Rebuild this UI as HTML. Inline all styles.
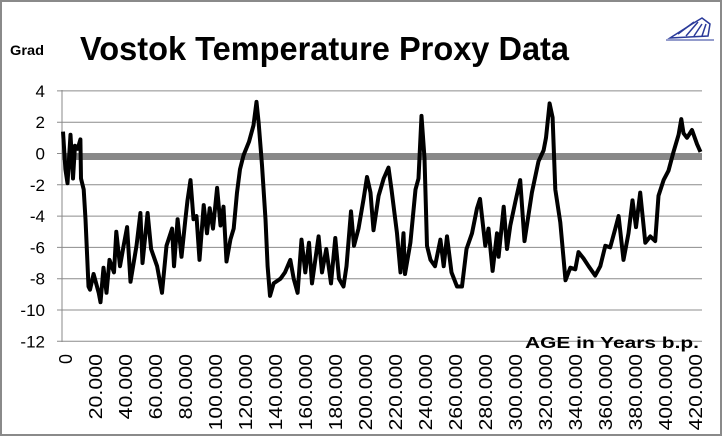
<!DOCTYPE html>
<html><head><meta charset="utf-8"><style>
html,body{margin:0;padding:0;background:#fff}
#wrap{position:relative;width:722px;height:436px;box-sizing:border-box;border:2px solid #8a8a8a;background:#fff}
svg{position:absolute;left:0;top:0}
text{font-family:"Liberation Sans",sans-serif}
</style></head><body>
<div id="wrap">
<svg id="chart" width="722" height="436">
<text x="8" y="53" font-size="14" font-weight="bold" textLength="34" lengthAdjust="spacingAndGlyphs">Grad</text>
<text x="78" y="58" font-size="33" font-weight="bold" textLength="489" lengthAdjust="spacingAndGlyphs">Vostok Temperature Proxy Data</text>
<g stroke="#2a3a9a" fill="none" stroke-width="1.5">
<path d="M668 36 L690 22 L700 16 L708 22 L706 34 L668 36 Z"/>
<path d="M676 32 L692 20 M684 34 L696 20 M692 34 L700 22 M700 34 L704 22"/>
<path d="M664 38 L712 38" stroke-width="1"/>
</g>
<g id="grid"></g>
<rect x="60" y="151.5" width="640" height="6.5" fill="#888"/>
<line x1="60" y1="88" x2="60" y2="340" stroke="#888" stroke-width="1"/>
<g id="ylabels"></g>
<g id="xlabels"></g>
<path id="series" fill="none" stroke="#000" stroke-width="4" stroke-linejoin="round"/>
<text x="523" y="346" font-size="16" font-weight="bold" textLength="174" lengthAdjust="spacingAndGlyphs">AGE in Years b.p.</text>
</svg>
</div>
<script>
const yTicks=[4,2,0,-2,-4,-6,-8,-10,-12];
const xTickLabels=["0","20.000","40.000","60.000","80.000","100.000","120.000","140.000","160.000","180.000","200.000","220.000","240.000","260.000","280.000","300.000","320.000","340.000","360.000","380.000","400.000","420.000"];
const xTickValues=[0,20,40,60,80,100,120,140,160,180,200,220,240,260,280,300,320,340,360,380,400,420];
const ages=[0,1.6,3,5,6.7,8,9.8,11.6,12,13.8,15,17,18,20.4,23.8,25,27,29,31,34,35.5,38,40.4,42.7,45,49,51.6,53,56.4,58.7,62.7,66,69,72.7,74,76.4,79,81.6,83,85,87,89,91,93.8,96,97.8,100,102.7,105,107,109,111.6,113.8,116,118,120.4,124,127,129,130.4,132.7,135,136.4,138,140.4,145,148,151.5,153.8,156.4,159,161.5,164,166,170.4,172.7,175.5,178.7,181.5,184,187,189,192,194,197,200.4,202.7,205,207,210.4,213.8,217,219,222.7,225,227,228,231.6,235,237,239,241,242.7,245,248,251.6,253.8,256,259,262.7,266,269,272.7,276,278,280,281.5,283.7,286.4,289.3,290.4,293.8,296,298.2,301.5,304.8,307.7,312.6,317,320.4,322,324.4,326.4,328.2,331.5,335,338.2,341.5,343.7,347,350.4,354.8,358.2,361.5,364.8,368.2,370.4,373.7,377,379.7,382,384.8,388.2,391.5,394.8,397,400.4,403.7,407,410.4,412.2,413.7,416,419.3,422.7,425];
const temps=[1.4,-1.0,-1.9,1.2,-1.6,0.5,0.3,0.9,-1.6,-2.3,-4.2,-8.5,-8.7,-7.7,-8.9,-9.5,-7.3,-8.9,-6.8,-7.6,-5,-7.2,-5.9,-4.7,-8.2,-5.9,-3.8,-7,-3.8,-6.1,-7.2,-8.9,-5.9,-4.8,-7.2,-4.2,-6.6,-4.2,-3,-1.7,-4.2,-4,-6.8,-3.3,-5.1,-3.5,-4.8,-2.2,-4.6,-3.4,-6.9,-5.5,-4.8,-2.5,-1,-0.1,0.75,1.8,3.3,2,-0.75,-4.2,-7.2,-9.1,-8.3,-8,-7.6,-6.8,-8,-8.9,-5.5,-7.6,-5.7,-8.3,-5.3,-7.6,-6.1,-8.3,-5.4,-8,-8.5,-7.2,-3.7,-5.9,-4.8,-2.9,-1.5,-2.5,-4.9,-2.7,-1.6,-0.9,-2.3,-5.1,-7.6,-5.1,-7.7,-5.7,-2.3,-1.6,2.4,-0.3,-5.9,-6.8,-7.2,-5.5,-7.2,-5.3,-7.6,-8.5,-8.5,-6.1,-5.1,-3.5,-2.9,-4.6,-5.9,-4.8,-7.5,-5.1,-6.6,-3.4,-6.1,-4.6,-3.1,-1.7,-5.6,-2.5,-0.5,0.2,1,3.2,2.3,-2.3,-4.4,-8.1,-7.3,-7.4,-6.3,-6.7,-7.2,-7.8,-7.2,-5.9,-6,-4.8,-4,-6.8,-5.1,-3,-4.7,-2.5,-5.7,-5.3,-5.6,-2.7,-1.7,-1.1,0.1,1.2,2.2,1.3,1,1.5,0.6,0.1];
const NS="http://www.w3.org/2000/svg";
function xScale(a){return 61+a*1.5;}
function yScale(v){return 151.5-v*15.65;}
const grid=document.getElementById('grid'),yl=document.getElementById('ylabels'),xl=document.getElementById('xlabels');
yTicks.forEach(t=>{
  const l=document.createElementNS(NS,'line');
  l.setAttribute('x1',55);l.setAttribute('x2',700);
  l.setAttribute('y1',yScale(t));l.setAttribute('y2',yScale(t));
  l.setAttribute('stroke','#8c8c8c');l.setAttribute('stroke-width','1');
  
  
  grid.appendChild(l);
  const tx=document.createElementNS(NS,'text');
  tx.setAttribute('x',43);tx.setAttribute('y',yScale(t)+6);
  tx.setAttribute('text-anchor','end');tx.setAttribute('font-size','17');
  tx.textContent=t;
  
  
  yl.appendChild(tx);
});
xTickValues.forEach((v,i)=>{
  const tx=document.createElementNS(NS,'text');
  const x=xScale(v)+9, y=352;
  tx.setAttribute('x',x);tx.setAttribute('y',y);
  tx.setAttribute('text-anchor','end');tx.setAttribute('font-size','18');
  tx.setAttribute('transform','rotate(-90 '+x+' '+y+')');
  tx.textContent=xTickLabels[i];
  if(xTickLabels[i].length>1){tx.setAttribute('textLength',xTickLabels[i].length*10.9);tx.setAttribute('lengthAdjust','spacingAndGlyphs');}
  
  
  xl.appendChild(tx);
});
let d='';
ages.forEach((a,i)=>{d+=(i?'L':'M')+xScale(a).toFixed(1)+' '+yScale(temps[i]).toFixed(1)+' ';});
document.getElementById('series').setAttribute('d',d);
</script>
</body></html>
